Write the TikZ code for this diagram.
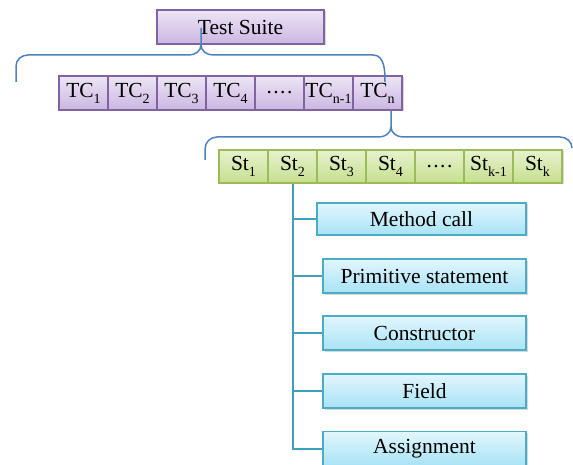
\documentclass[tikz,border=0pt]{standalone}
\usepackage{fontspec}
\setmainfont{Liberation Serif}
\usetikzlibrary{shadows}

\definecolor{suiteedge}{HTML}{8064A2}
\definecolor{suitetop}{HTML}{EDE5F5}
\definecolor{suitebot}{HTML}{CBB6E2}
\definecolor{stepedge}{HTML}{9BBB59}
\definecolor{steptop}{HTML}{E6F2CE}
\definecolor{stepbot}{HTML}{C6DF8E}
\definecolor{kindedge}{HTML}{4BACC6}
\definecolor{kindtop}{HTML}{E2F6FD}
\definecolor{kindbot}{HTML}{A8E3F6}
\definecolor{braceline}{HTML}{4F81BD}
\definecolor{treeline}{HTML}{3FA0BC}

\newcommand{\idx}[1]{\raisebox{-6pt}{\fontsize{14}{14}\selectfont #1}}
\newcommand{\gap}{.\kern1.5pt.\kern1.5pt.\kern1.5pt.}

\tikzset{
  box/.style={draw, line width=1.5pt, inner sep=0pt,
    font=\fontsize{21.5}{24}\selectfont,
    drop shadow={shadow xshift=1.5pt, shadow yshift=-1.5pt, opacity=0.3}},
  suitebox/.style={box, draw=suiteedge, top color=suitetop, bottom color=suitebot},
  tcbox/.style={suitebox, minimum width=49pt, minimum height=34pt},
  stepbox/.style={box, draw=stepedge, top color=steptop, bottom color=stepbot,
    minimum width=49pt, minimum height=33pt},
  kindbox/.style={box, draw=kindedge, top color=kindtop, bottom color=kindbot,
    minimum width=203pt, minimum height=34pt},
  brace/.style={draw=braceline, line width=1.5pt},
  tree/.style={draw=treeline, line width=2pt}
}

\begin{document}
\begin{tikzpicture}[x=1pt, y=-1pt]
    \useasboundingbox (0,0) rectangle (573,465);

    % Suite and its test cases
    \node[suitebox, minimum width=167pt, minimum height=34pt] (ts) at (240.5,27) {Test Suite};
    \foreach \lbl [count=\i] in {TC\idx{1}, TC\idx{2}, TC\idx{3},
        TC\idx{4}, \gap, TC\idx{n-1}, TC\idx{n}} {
        \node[tcbox] (tc\i) at ({34.5+49*\i},93) {\lbl};
    }

    % Statements of the last test case
    \foreach \lbl [count=\i] in {St\idx{1}, St\idx{2}, St\idx{3},
        St\idx{4}, \gap, St\idx{k-1}, St\idx{k}} {
        \node[stepbox] (st\i) at ({194.5+49*\i},166.5) {\lbl};
    }

    % Kinds of statement
    \node[kindbox, minimum width=209pt, minimum height=32pt] (mc) at (421.5,219) {Method call};
    \node[kindbox] (ps) at (424.5,276) {Primitive statement};
    \node[kindbox] (co) at (424.5,333) {Constructor};
    \node[kindbox] (fi) at (424.5,391) {Field};
    \node[kindbox] (as) at (424.5,448.5) {Assignment};

    % Braces
    \coordinate (tstip) at (201,28);
    \coordinate (tcleft) at (16,82);
    \coordinate (tcright) at (385,82);
    \draw[brace] (tcleft) -- (16,66) to[out=90,in=180] (28,55) -- (189,55)
        to[out=0,in=-90] (201,45) -- (tstip);
    \draw[brace] (201,45) to[out=-90,in=180] (213,55) -- (373,55)
        to[out=0,in=90] (tcright);

    \coordinate (sttip) at (tc7.south -| 391,0);
    \coordinate (stleft) at (205,160);
    \coordinate (stright) at (572,148);
    \draw[brace] (stleft) -- (205,149) to[out=90,in=180] (217,137) -- (379,137)
        to[out=0,in=-90] (391,127) -- (sttip);
    \draw[brace] (391,127) to[out=-90,in=180] (403,137) -- (560,137)
        to[out=0,in=90] (stright);

    % Tree under St2
    \foreach \k in {mc,ps,co,fi,as} {
        \draw[tree] (st2.south) |- (\k.west);
    }
\end{tikzpicture}
\end{document}
